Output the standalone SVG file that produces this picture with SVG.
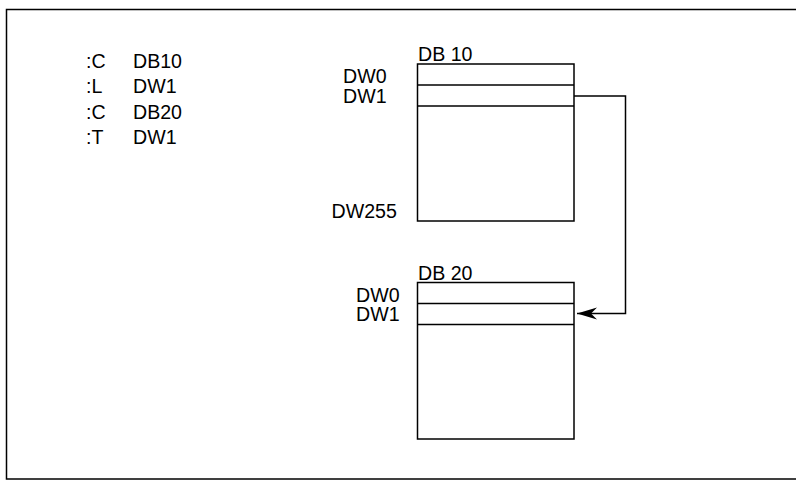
<svg xmlns="http://www.w3.org/2000/svg" width="796" height="480" viewBox="0 0 796 480">
<style>
text{font-family:"Liberation Sans",Arial,sans-serif;font-size:19.6px;fill:#000}
.ln{fill:none;stroke:#000;stroke-width:1.5}
</style>
<defs>
<marker id="arr" markerUnits="userSpaceOnUse" markerWidth="22" markerHeight="14" refX="20" refY="7" orient="auto">
<path d="M0,1 L20,7 L0,13 L6,7 Z" fill="#000"/>
</marker>
</defs>
<rect width="796" height="480" fill="#fff"/>
<rect class="ln" x="6.5" y="9.5" width="800" height="469.5" stroke-width="1.7"/>
<g id="code">
<text x="86" y="67.5">:C</text><text x="133" y="67.5">DB10</text>
<text x="86" y="93">:L</text><text x="133" y="93">DW1</text>
<text x="86" y="118.5">:C</text><text x="133" y="118.5">DB20</text>
<text x="86" y="144">:T</text><text x="133" y="144">DW1</text>
</g>
<g id="db10">
<text x="418" y="61">DB 10</text>
<rect class="ln" x="417.5" y="64" width="156.5" height="157"/>
<line class="ln" x1="417.5" y1="85" x2="574" y2="85"/>
<line class="ln" x1="417.5" y1="106" x2="574" y2="106"/>
<text x="343" y="83">DW0</text>
<text x="343" y="102.5">DW1</text>
<text x="331.5" y="217.5">DW255</text>
</g>
<g id="db20">
<text x="418" y="279.5">DB 20</text>
<rect class="ln" x="417.5" y="282.5" width="156.5" height="156.5"/>
<line class="ln" x1="417.5" y1="303.5" x2="574" y2="303.5"/>
<line class="ln" x1="417.5" y1="324.5" x2="574" y2="324.5"/>
<text x="356" y="301.5">DW0</text>
<text x="356" y="321">DW1</text>
</g>
<g id="connectors">
<polyline class="ln" points="574,96 625.5,96 625.5,313.5 577,313.5" marker-end="url(#arr)"/>
</g>
</svg>
